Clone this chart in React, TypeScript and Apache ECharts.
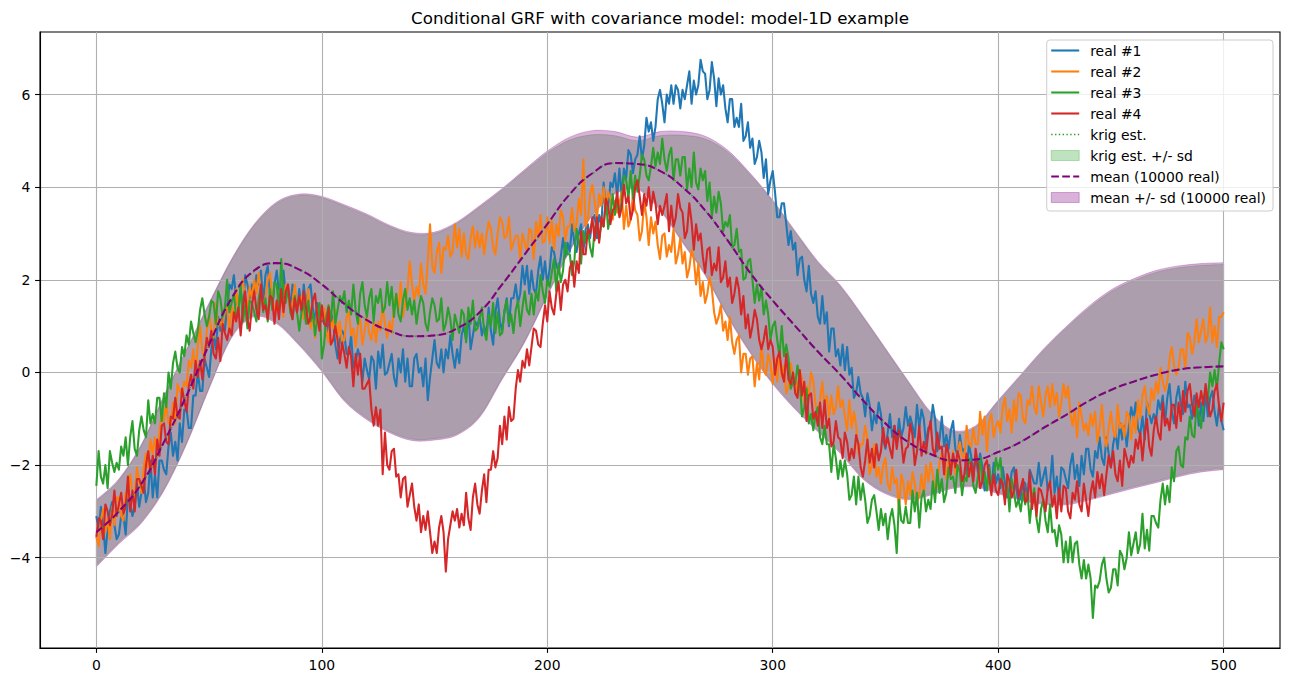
import React, { useEffect, useRef } from "react";
import * as echarts from "echarts";

// Realisations are sampled every unit on [0, 500].
const REAL_STEP = 1;
// Kriging and ensemble statistics are sampled every 10 units on [0, 500].
const STAT_STEP = 10;

const REAL_1 = [
  -3.1, -3.4, -2.9, -3.3, -3.9, -3.4, -3.0, -2.8, -3.3, -3.6,
  -3.5, -3.1, -3.1, -3.5, -2.7, -2.8, -3.1, -2.9, -2.4, -2.9,
  -2.6, -2.3, -2.8, -2.6, -1.9, -2.7, -2.2, -2.7, -1.9, -1.9,
  -2.1, -2.2, -1.6, -1.3, -1.8, -1.5, -1.9, -1.1, -1.5, -0.8,
  -0.8, -1.2, -1.2, -0.5, -0.5, 0.0, -0.4, -0.4, 0.3, 0.1,
  -0.1, 0.5, 0.8, 0.5, 1.2, 0.9, 1.3, 0.9, 1.4, 1.9,
  1.8, 2.1, 1.6, 1.4, 1.8, 1.3, 2.1, 1.9, 1.6, 1.9,
  1.7, 2.1, 1.9, 2.2, 1.5, 2.1, 2.3, 1.7, 1.4, 1.9,
  2.2, 1.7, 1.5, 2.2, 1.7, 1.8, 1.4, 1.9, 1.8, 1.3,
  1.8, 1.3, 1.9, 1.4, 1.8, 1.9, 1.4, 1.1, 1.5, 1.2,
  1.1, 1.3, 0.8, 1.1, 1.3, 1.1, 0.6, 0.3, 0.7, 0.9,
  0.8, 0.4, 0.4, 0.8, 0.1, 0.2, 0.5, 0.3, -0.2, 0.3,
  0.05, -0.15, 0.35, 0.25, -0.35, 0.45, 0.1, 0.6, -0.05, 0.0,
  0.2, 0.4, -0.1, -0.3, 0.3, 0.0, 0.5, -0.2, 0.3, -0.3,
  -0.3, 0.3, 0.4, 0.0, 0.1, -0.3, 0.3, -0.6, -0.1, 0.3,
  0.7, 0.2, 0.1, 0.5, 0.0, 0.5, 0.3, 0.8, 0.4, 0.1,
  0.5, 0.2, 0.8, 1.0, 0.7, 1.3, 0.5, 0.8, 1.1, 1.0,
  1.2, 0.8, 1.0, 0.8, 1.4, 0.9, 0.6, 1.3, 1.6, 1.1,
  0.9, 1.3, 1.6, 1.0, 1.6, 1.6, 1.9, 1.5, 1.7, 2.3,
  1.9, 2.3, 1.7, 2.2, 1.8, 1.7, 2.2, 2.5, 2.0, 2.4,
  1.9, 2.2, 2.7, 2.6, 2.3, 2.2, 2.5, 2.9, 2.5, 2.8,
  2.6, 3.2, 2.8, 2.6, 3.0, 3.2, 2.6, 3.1, 3.2, 2.9,
  3.3, 3.4, 2.9, 3.4, 3.2, 4.1, 3.5, 3.5, 4.1, 4.0,
  4.3, 3.8, 4.4, 3.8, 4.4, 4.2, 4.8, 4.7, 4.3, 4.6,
  4.7, 5.1, 4.6, 4.9, 5.5, 5.2, 5.4, 5.0, 5.3, 5.9,
  6.1, 5.8, 5.4, 6.0, 5.8, 6.2, 5.8, 6.2, 6.1, 5.7,
  6.1, 5.9, 6.2, 6.5, 5.8, 6.3, 6.0, 6.2, 6.75, 6.5,
  6.45, 5.9, 6.1, 6.7, 6.35, 5.75, 6.35, 6.0, 6.2, 5.7,
  5.4, 5.9, 5.9, 5.3, 5.5, 5.3, 5.8, 5.0, 5.1, 5.4,
  4.85, 5.05, 4.5, 4.65, 5.0, 4.75, 4.2, 4.6, 3.85, 4.15,
  4.35, 3.9, 3.35, 3.35, 3.65, 3.65, 3.2, 2.75, 3.05, 2.65,
  2.8, 2.1, 2.45, 2.5, 2.0, 1.75, 2.3, 1.7, 1.5, 1.75,
  1.2, 1.05, 1.65, 1.05, 1.3, 0.45, 0.95, 0.95, 0.35, 0.5,
  0.15, 0.6, 0.05, 0.55, -0.05, 0.1, -0.55, -0.45, -0.1, -0.45,
  -0.55, -0.95, -0.45, -0.7, -1.25, -0.9, -1.1, -0.65, -0.9, -1.45,
  -1.65, -1.3, -0.9, -1.4, -1.15, -1.5, -1.0, -1.4, -1.2, -0.75,
  -1.15, -0.95, -1.15, -1.4, -0.7, -1.2, -0.8, -1.0, -1.55, -1.2,
  -1.15, -0.7, -1.0, -1.7, -1.45, -0.95, -1.6, -1.35, -1.65, -1.25,
  -1.05, -1.65, -1.8, -1.35, -1.7, -1.65, -2.2, -1.55, -1.8, -2.25,
  -1.8, -2.15, -1.75, -2.05, -2.55, -2.45, -2.0, -2.55, -1.95, -2.4,
  -2.2, -2.5, -2.05, -2.4, -2.7, -2.55, -2.15, -2.05, -2.5, -2.8,
  -2.7, -2.35, -2.4, -2.75, -2.1, -2.25, -2.4, -2.4, -1.95, -2.45,
  -2.25, -2.05, -2.55, -2.4, -1.8, -2.6, -2.25, -2.75, -2.05, -2.1,
  -2.3, -2.5, -2.0, -1.75, -2.3, -2.0, -2.45, -1.8, -2.2, -1.65,
  -1.65, -2.1, -2.25, -1.7, -1.85, -1.4, -1.85, -2.0, -1.4, -1.75,
  -2.05, -1.55, -1.3, -1.65, -1.1, -1.45, -1.15, -1.6, -1.15, -0.75,
  -1.0, -0.65, -1.2, -1.35, -0.95, -1.45, -0.65, -0.9, -1.1, -0.9,
  -1.05, -0.6, -0.8, -0.5, -1.1, -0.55, -0.25, -0.85, -1.1, -0.55,
  -0.3, -0.7, -0.9, -0.2, -0.75, -0.7, -1.0, -0.5, -0.6, -1.15,
  -0.65, -1.05, -0.45, -0.95, -0.55, -0.4, -0.85, -1.15, -0.7, -1.05,
  -1.25,
];

const REAL_2 = [
  -3.55, -3.75, -3.2, -2.95, -3.45, -3.15, -3.6, -2.9, -3.3, -2.7,
  -2.7, -3.1, -3.2, -2.6, -2.7, -2.2, -2.6, -2.7, -2.05, -2.35,
  -2.6, -2.05, -1.75, -2.05, -1.45, -1.75, -1.4, -1.8, -1.3, -0.85,
  -1.05, -0.65, -1.1, -1.15, -0.65, -1.1, -0.25, -0.4, -0.5, -0.2,
  -0.3, 0.25, 0.1, 0.5, -0.05, 0.6, 1.0, 0.45, 0.3, 0.9,
  1.25, 0.9, 0.75, 1.5, 1.0, 1.15, 0.9, 1.45, 1.4, 0.9,
  1.45, 1.1, 1.8, 1.3, 1.8, 2.0, 1.6, 1.4, 1.85, 1.6,
  2.0, 1.7, 2.15, 1.75, 1.45, 1.6, 2.0, 2.15, 1.65, 1.35,
  1.45, 1.75, 1.7, 1.2, 1.9, 1.7, 1.3, 1.5, 1.9, 1.35,
  1.5, 1.65, 1.15, 1.2, 1.8, 0.95, 1.25, 0.75, 1.35, 1.3,
  1.15, 1.4, 0.9, 0.65, 1.2, 0.95, 1.35, 0.7, 1.1, 0.65,
  0.7, 1.2, 1.3, 0.8, 0.95, 0.55, 1.0, 1.15, 0.6, 0.9,
  1.25, 0.85, 0.7, 1.1, 0.65, 1.1, 0.9, 1.45, 1.05, 0.75,
  1.1, 0.85, 1.45, 1.7, 1.35, 1.95, 1.2, 1.5, 1.8, 2.4,
  1.9, 1.55, 1.85, 1.65, 2.35, 1.9, 1.7, 2.4, 3.2, 2.3,
  2.15, 2.6, 2.8, 2.15, 2.7, 2.65, 2.95, 2.5, 2.6, 3.2,
  2.7, 3.1, 2.5, 3.0, 2.55, 2.45, 2.9, 3.15, 2.7, 3.05,
  2.7, 3.0, 2.55, 2.95, 3.25, 3.1, 2.7, 2.55, 3.0, 3.35,
  3.25, 2.9, 2.95, 3.35, 2.65, 2.8, 2.95, 2.95, 2.45, 3.0,
  2.8, 2.6, 3.1, 3.05, 2.45, 3.25, 2.9, 3.4, 2.8, 2.85,
  3.35, 2.8, 3.3, 2.65, 3.2, 2.95, 3.5, 3.35, 2.85, 3.15,
  3.15, 3.55, 3.05, 3.2, 3.75, 3.4, 4.6, 3.15, 3.3, 3.85,
  4.05, 3.7, 3.3, 3.85, 3.6, 4.0, 3.5, 3.9, 3.75, 3.3,
  3.7, 3.45, 3.65, 3.9, 3.1, 3.6, 3.15, 3.3, 3.85, 3.5,
  3.4, 2.85, 3.05, 3.7, 3.35, 2.75, 3.35, 3.0, 3.25, 2.75,
  2.45, 2.95, 3.0, 2.5, 2.75, 2.6, 3.1, 2.35, 2.55, 2.9,
  2.35, 2.6, 2.05, 2.25, 2.65, 2.45, 1.9, 2.35, 1.65, 1.95,
  1.5, 1.7, 2.05, 1.8, 1.3, 1.05, 1.2, 1.45, 0.9, 1.1,
  0.7, 1.2, 0.65, 0.4, 0.7, 0.8, 0.0, 0.4, 0.4, -0.05,
  0.3, 0.35, -0.3, 0.2, -0.15, 0.65, 0.05, -0.05, 0.4, 0.2,
  -0.25, 0.3, -0.2, 0.45, -0.1, 0.15, -0.45, -0.3, 0.2, -0.1,
  -0.1, -0.5, 0.05, -0.15, -0.65, -0.3, -0.5, 0.0, -0.2, -0.7,
  -0.9, -0.6, -0.2, -0.75, -0.5, -0.95, -0.5, -0.9, -0.75, -0.3,
  -0.75, -0.6, -0.95, -1.25, -0.6, -1.2, -0.85, -1.15, -1.75, -1.55,
  -1.55, -1.15, -1.45, -2.2, -2.0, -1.55, -2.25, -2.05, -2.4, -2.0,
  -1.85, -2.4, -2.55, -2.05, -2.4, -2.3, -3.0, -2.2, -2.4, -2.85,
  -2.35, -2.65, -2.15, -2.4, -2.8, -2.65, -2.2, -2.65, -2.0, -2.35,
  -1.95, -2.2, -2.6, -2.4, -1.95, -1.75, -2.0, -2.3, -1.8, -2.05,
  -1.7, -2.2, -1.7, -1.5, -1.8, -1.9, -1.15, -1.55, -1.6, -1.2,
  -1.55, -1.55, -0.85, -1.35, -0.95, -1.7, -1.05, -0.9, -1.4, -1.15,
  -1.05, -1.3, -0.75, -0.55, -1.05, -0.8, -1.3, -0.6, -1.05, -0.45,
  -0.5, -1.0, -1.1, -0.6, -0.7, -0.3, -0.75, -0.9, -0.3, -0.65,
  -0.95, -0.5, -0.3, -0.75, -0.25, -0.7, -0.45, -0.95, -0.65, -0.25,
  -0.55, -0.3, -0.9, -1.15, -0.8, -1.4, -0.65, -0.95, -1.25, -1.1,
  -1.35, -0.9, -1.15, -0.85, -1.5, -1.2, -0.7, -1.35, -1.6, -1.2,
  -0.85, -1.25, -1.4, -0.7, -1.2, -1.1, -1.4, -0.85, -0.95, -1.45,
  -0.95, -1.3, -0.6, -1.0, -0.5, -0.3, -0.7, -0.9, -0.35, -0.6,
  -0.2, -0.45, 0.1, -0.2, -0.4, -0.2, 0.3, 0.55, 0.15, -0.05,
  0.1, 0.5, 0.5, 0.1, 0.85, 0.75, 0.4, 0.65, 1.15, 0.65,
  0.9, 1.15, 0.65, 0.8, 1.4, 0.65, 1.0, 0.55, 1.2, 1.2,
  1.3,
];

const REAL_3 = [
  -2.45, -1.7, -2.25, -2.4, -2.0, -2.5, -1.7, -1.95, -2.15, -1.95,
  -2.1, -1.6, -1.8, -1.4, -2.0, -1.4, -1.05, -1.65, -1.8, -1.25,
  -0.95, -1.25, -1.4, -0.6, -1.1, -0.9, -1.1, -0.55, -0.55, -1.05,
  -0.45, -0.75, 0.0, -0.35, 0.2, 0.45, 0.1, 0.0, 0.55, 0.35,
  0.8, 0.6, 1.1, 0.85, 0.65, 0.9, 1.35, 1.6, 1.25, 1.0,
  1.2, 1.55, 1.5, 1.05, 1.75, 1.6, 1.2, 1.4, 2.0, 1.3,
  1.5, 1.7, 1.2, 1.3, 1.9, 1.1, 1.45, 0.95, 1.55, 1.5,
  1.3, 1.1, 1.6, 1.85, 1.3, 1.6, 1.1, 1.8, 1.35, 1.95,
  1.9, 1.35, 2.45, 1.65, 1.5, 1.85, 1.3, 1.15, 1.65, 1.3,
  0.9, 1.3, 1.5, 1.05, 1.55, 1.1, 1.3, 0.8, 1.15, 1.5,
  0.3, 0.6, 1.2, 1.45, 1.1, 1.75, 1.05, 1.35, 1.65, 1.5,
  1.75, 1.3, 1.55, 1.25, 1.9, 1.35, 1.05, 1.7, 1.95, 1.45,
  1.2, 1.6, 1.8, 1.1, 1.65, 1.5, 1.8, 1.3, 1.4, 1.95,
  1.45, 1.85, 1.2, 1.7, 1.25, 1.1, 1.55, 1.8, 1.35, 1.6,
  1.25, 1.55, 1.05, 1.4, 1.65, 1.5, 1.05, 0.9, 1.3, 1.6,
  1.45, 1.1, 1.15, 1.6, 0.9, 1.05, 1.4, 1.15, 0.7, 1.25,
  1.05, 0.85, 1.35, 1.25, 0.65, 1.4, 1.05, 1.55, 0.9, 0.95,
  1.15, 1.4, 0.9, 0.7, 1.25, 1.0, 1.5, 0.85, 1.3, 0.8,
  0.85, 1.35, 1.55, 1.05, 1.25, 0.85, 1.35, 1.55, 1.0, 1.4,
  1.75, 1.35, 1.25, 1.7, 1.25, 1.75, 1.55, 2.1, 1.75, 1.5,
  2.0, 1.85, 2.15, 2.45, 1.75, 2.35, 1.95, 2.2, 2.8, 2.55,
  2.55, 2.1, 2.4, 3.1, 2.85, 2.35, 3.05, 2.8, 3.1, 2.7,
  2.5, 3.1, 3.25, 2.85, 3.2, 3.15, 3.75, 3.1, 3.4, 3.85,
  3.4, 3.75, 3.4, 3.7, 4.25, 4.15, 3.75, 4.35, 3.75, 4.25,
  3.9, 4.25, 4.7, 4.6, 4.25, 4.15, 4.45, 4.85, 4.45, 4.75,
  4.5, 5.05, 4.6, 4.35, 4.7, 4.85, 4.15, 4.6, 4.6, 4.25,
  4.65, 4.65, 3.95, 4.4, 4.0, 4.75, 4.1, 3.95, 4.4, 4.15,
  4.35, 3.7, 4.1, 3.35, 3.8, 3.45, 3.9, 3.65, 3.05, 3.25,
  3.15, 3.4, 2.7, 2.75, 3.1, 2.6, 2.65, 2.0, 2.05, 2.4,
  2.45, 2.0, 1.5, 1.9, 1.55, 1.85, 1.25, 1.55, 1.25, 0.7,
  1.0, 1.1, 0.7, 0.35, 1.0, 0.35, 0.6, 0.3, -0.35, -0.2,
  -0.25, 0.15, -0.2, -0.95, -0.75, -0.35, -1.1, -0.9, -1.25, -0.9,
  -0.75, -1.4, -1.55, -1.15, -1.55, -1.55, -2.15, -1.55, -1.85, -2.3,
  -1.9, -2.25, -1.9, -2.2, -2.75, -2.65, -2.25, -2.85, -2.25, -2.75,
  -2.4, -2.75, -3.25, -3.1, -2.75, -2.65, -3.0, -3.4, -2.95, -3.3,
  -3.05, -3.6, -3.15, -2.95, -3.3, -3.9, -2.75, -3.2, -3.25, -2.9,
  -3.25, -3.25, -2.55, -3.0, -2.6, -3.35, -2.7, -2.55, -3.0, -2.75,
  -2.95, -2.35, -2.8, -2.1, -2.6, -2.3, -2.8, -2.6, -2.05, -2.3,
  -2.25, -2.6, -2.0, -2.15, -2.65, -2.25, -2.35, -1.85, -2.0, -2.45,
  -2.6, -2.25, -1.85, -2.4, -2.15, -2.55, -2.05, -2.45, -2.3, -1.85,
  -2.1, -1.85, -2.45, -2.7, -2.35, -3.0, -2.3, -2.6, -2.9, -2.75,
  -3.0, -2.6, -2.85, -2.6, -3.25, -2.75, -2.5, -3.15, -3.45, -2.95,
  -2.75, -3.2, -3.45, -2.85, -3.45, -3.4, -3.75, -3.3, -3.5, -4.1,
  -3.65, -4.1, -3.55, -4.1, -3.7, -3.65, -4.15, -4.45, -4.05, -4.45,
  -4.15, -4.45, -5.3, -4.6, -4.65, -4.5, -4.15, -4.0, -4.45, -4.75,
  -4.65, -4.25, -4.25, -4.6, -3.85, -3.95, -4.25, -4.0, -3.45, -3.95,
  -3.7, -3.45, -3.9, -3.7, -3.05, -3.8, -3.4, -3.85, -3.1, -3.1,
  -3.25, -3.35, -2.75, -2.4, -2.85, -2.45, -2.8, -2.05, -2.35, -1.7,
  -1.6, -2.0, -2.05, -1.4, -1.45, -0.95, -1.35, -1.4, -0.7, -0.95,
  -1.2, -0.65, -0.35, -0.6, 0.0, -0.3, 0.05, -0.35, 0.2, 0.65,
  0.5,
];

const REAL_4 = [
  -3.55, -3.15, -3.2, -3.6, -2.85, -3.0, -3.3, -3.05, -2.55, -3.1,
  -2.85, -2.6, -3.05, -2.9, -2.25, -3.0, -2.55, -3.0, -2.3, -2.3,
  -2.45, -2.6, -2.0, -1.7, -2.15, -1.8, -2.2, -1.45, -1.8, -1.15,
  -1.1, -1.5, -1.55, -0.95, -1.0, -0.55, -0.95, -1.0, -0.35, -0.6,
  -0.85, -0.3, -0.05, -0.35, 0.25, -0.1, 0.25, -0.15, 0.35, 0.75,
  0.55, 0.9, 0.4, 0.3, 0.75, 0.25, 1.05, 0.85, 0.7, 0.95,
  0.8, 1.3, 1.1, 1.4, 0.8, 1.4, 1.75, 1.15, 0.9, 1.45,
  1.75, 1.35, 1.15, 1.9, 1.35, 1.45, 1.15, 1.65, 1.6, 1.05,
  1.55, 1.15, 1.8, 1.3, 1.75, 1.9, 1.45, 1.15, 1.6, 1.3,
  1.65, 1.35, 1.75, 1.4, 1.05, 1.2, 1.55, 1.7, 1.2, 0.9,
  1.45, 1.05, 1.0, 1.4, 0.6, 0.7, 1.0, 0.7, 0.2, 0.65,
  0.4, 0.1, 0.55, 0.35, -0.3, 0.4, -0.05, 0.4, -0.35, -0.35,
  -0.25, -0.15, -0.8, -1.15, -0.75, -1.15, -0.8, -2.2, -1.3, -2.0,
  -2.1, -1.7, -1.65, -2.25, -2.2, -2.7, -2.3, -2.25, -2.9, -2.65,
  -2.4, -2.9, -3.2, -2.85, -3.45, -3.1, -3.4, -3.0, -3.45, -3.9,
  -3.65, -3.9, -3.35, -3.1, -3.45, -4.3, -3.6, -3.3, -3.0, -3.2,
  -2.95, -3.35, -3.05, -3.3, -2.6, -3.15, -3.4, -2.7, -2.4, -2.85,
  -3.05, -2.55, -2.2, -2.8, -2.1, -2.1, -1.7, -2.05, -1.85, -1.15,
  -1.55, -0.95, -1.45, -0.75, -1.05, -1.0, -0.35, 0.05, -0.2, 0.25,
  0.1, 0.5, 0.15, 0.55, 0.95, 0.9, 0.6, 0.55, 1.05, 1.45,
  1.1, 1.75, 1.4, 1.25, 1.7, 1.95, 1.35, 1.9, 2.0, 1.75,
  2.25, 2.4, 1.85, 2.4, 2.15, 3.05, 2.55, 2.55, 3.1, 3.0,
  3.35, 2.85, 3.35, 2.8, 3.35, 3.15, 3.75, 3.6, 3.2, 3.5,
  3.55, 3.9, 3.35, 3.55, 4.05, 3.65, 3.8, 3.3, 3.5, 4.0,
  4.15, 3.8, 3.4, 3.85, 3.6, 4.0, 3.5, 3.9, 3.65, 3.2,
  3.6, 3.4, 3.6, 3.85, 3.05, 3.6, 3.15, 3.35, 3.85, 3.55,
  3.45, 2.9, 3.05, 3.65, 3.25, 2.65, 3.2, 2.85, 3.0, 2.5,
  2.15, 2.65, 2.7, 2.1, 2.35, 2.2, 2.7, 1.95, 2.05, 2.4,
  1.85, 2.05, 1.5, 1.7, 2.05, 1.8, 1.25, 1.65, 0.95, 1.25,
  0.75, 1.0, 1.35, 1.15, 0.7, 0.5, 0.7, 1.0, 0.5, 0.7,
  0.55, -0.05, 0.3, 0.45, 0.0, -0.2, 0.4, -0.15, -0.25, 0.0,
  -0.45, -0.55, 0.05, -0.5, -0.2, -1.05, -0.5, -0.45, -1.0, -0.85,
  -1.15, -0.65, -1.2, -0.6, -1.2, -1.0, -1.6, -1.5, -1.05, -1.4,
  -1.45, -1.85, -1.3, -1.5, -1.9, -1.65, -1.85, -1.35, -1.55, -2.05,
  -2.25, -1.9, -1.45, -1.95, -1.65, -2.05, -1.55, -1.9, -1.7, -1.2,
  -1.6, -1.4, -1.65, -1.85, -1.15, -1.65, -1.25, -1.45, -1.95, -1.65,
  -1.6, -1.1, -1.35, -2.0, -1.7, -1.15, -1.8, -1.5, -1.75, -1.3,
  -1.05, -1.65, -1.8, -1.3, -1.65, -1.6, -2.2, -1.55, -1.75, -2.2,
  -1.75, -2.05, -1.7, -1.9, -2.35, -2.2, -1.75, -2.25, -1.95, -2.35,
  -1.65, -2.0, -2.5, -2.35, -2.0, -1.9, -2.25, -2.65, -2.2, -2.55,
  -2.65, -2.3, -2.4, -2.85, -2.2, -2.35, -2.7, -2.55, -2.1, -2.7,
  -2.5, -2.3, -2.8, -2.75, -2.15, -2.95, -2.6, -3.1, -2.5, -2.55,
  -2.75, -3.0, -2.5, -2.35, -2.9, -2.65, -3.15, -2.5, -3.0, -2.45,
  -2.5, -3.0, -3.15, -2.6, -2.75, -2.35, -2.85, -3.0, -2.4, -2.75,
  -3.1, -2.6, -2.35, -2.7, -2.15, -2.5, -2.2, -2.65, -2.2, -1.8,
  -2.05, -1.7, -2.2, -2.35, -1.9, -2.45, -1.65, -1.85, -2.05, -1.8,
  -1.95, -1.45, -1.65, -1.3, -1.9, -1.35, -1.0, -1.6, -1.8, -1.25,
  -0.95, -1.3, -1.45, -0.65, -1.15, -1.0, -1.25, -0.7, -0.7, -1.2,
  -0.65, -1.05, -0.4, -0.85, -0.4, -0.25, -0.7, -0.95, -0.45, -0.75,
  -0.4, -0.7, -0.25, -0.65, -0.95, -0.8, -0.4, -0.25, -0.75, -1.05,
  -0.65,
];

// Kriging estimate and its +/- one standard deviation envelope.
const KRIG_EST = [
  -3.45, -3.02, -2.42, -1.52, -0.5, 0.6, 1.58, 2.18, 2.35, 2.22,
  1.9, 1.49, 1.14, 0.9, 0.78, 0.8, 0.96, 1.31, 1.9, 2.55,
  3.2, 3.84, 4.29, 4.52, 4.5, 4.35, 4.0, 3.5, 2.85, 2.16,
  1.55, 1.0, 0.46, -0.05, -0.6, -1.1, -1.5, -1.76, -1.9, -1.88,
  -1.72, -1.5, -1.21, -0.92, -0.62, -0.38, -0.2, -0.05, 0.06, 0.11,
  0.13,
];
const KRIG_LO = [
  -4.17, -3.67, -3.22, -2.52, -1.52, -0.32, 0.78, 1.23, 1.08, 0.61,
  0.05, -0.59, -0.99, -1.27, -1.44, -1.43, -1.32, -0.94, -0.12, 0.68,
  1.68, 2.65, 3.41, 3.88, 3.98, 3.53, 2.83, 2.13, 1.23, 0.45,
  -0.22, -0.77, -1.25, -1.72, -2.27, -2.59, -2.72, -2.62, -2.47, -2.45,
  -2.59, -2.73, -2.82, -2.83, -2.73, -2.6, -2.47, -2.35, -2.22, -2.12,
  -2.07,
];
const KRIG_HI = [
  -2.78, -2.33, -1.58, -0.53, 0.47, 1.47, 2.42, 3.17, 3.65, 3.82,
  3.77, 3.59, 3.39, 3.15, 2.99, 3.0, 3.22, 3.57, 3.94, 4.35,
  4.74, 5.02, 5.13, 5.11, 5.0, 5.11, 5.12, 5.04, 4.76, 4.27,
  3.69, 3.02, 2.37, 1.85, 1.19, 0.49, -0.21, -0.88, -1.28, -1.18,
  -0.63, -0.08, 0.47, 0.95, 1.38, 1.74, 1.98, 2.16, 2.26, 2.31,
  2.33,
];

// Mean of 10000 realisations and its +/- one standard deviation envelope.
const MEAN_REAL = [
  -3.45, -3.0, -2.4, -1.5, -0.5, 0.6, 1.6, 2.2, 2.36, 2.22,
  1.9, 1.48, 1.13, 0.9, 0.78, 0.8, 0.95, 1.3, 1.9, 2.55,
  3.2, 3.85, 4.3, 4.52, 4.5, 4.35, 4.0, 3.5, 2.85, 2.15,
  1.55, 1.0, 0.45, -0.05, -0.6, -1.1, -1.5, -1.76, -1.9, -1.88,
  -1.72, -1.5, -1.2, -0.92, -0.62, -0.38, -0.2, -0.05, 0.06, 0.11,
  0.13,
];
const MEAN_LO = [
  -4.2, -3.7, -3.25, -2.55, -1.55, -0.35, 0.75, 1.2, 1.05, 0.58,
  0.02, -0.62, -1.02, -1.3, -1.47, -1.46, -1.35, -0.97, -0.15, 0.65,
  1.65, 2.62, 3.38, 3.85, 3.95, 3.5, 2.8, 2.1, 1.2, 0.42,
  -0.25, -0.8, -1.28, -1.75, -2.3, -2.62, -2.75, -2.65, -2.5, -2.48,
  -2.62, -2.76, -2.85, -2.86, -2.76, -2.63, -2.5, -2.38, -2.25, -2.15,
  -2.1,
];
const MEAN_HI = [
  -2.75, -2.3, -1.55, -0.5, 0.5, 1.5, 2.45, 3.2, 3.68, 3.85,
  3.8, 3.62, 3.42, 3.18, 3.02, 3.03, 3.25, 3.6, 3.97, 4.38,
  4.78, 5.08, 5.22, 5.2, 5.08, 5.2, 5.2, 5.1, 4.8, 4.3,
  3.72, 3.05, 2.4, 1.88, 1.22, 0.52, -0.18, -0.85, -1.25, -1.15,
  -0.6, -0.05, 0.5, 0.98, 1.42, 1.78, 2.02, 2.2, 2.3, 2.35,
  2.37,
];

const X_TICKS = [0, 100, 200, 300, 400, 500];
const Y_TICKS = [-4, -2, 0, 2, 4, 6];
const X_MIN = -25;
const X_MAX = 525;
const Y_MIN = -5.95;
const Y_MAX = 7.35;

const TITLE = "Conditional GRF with covariance model: model-1D example";

const C_BLUE = "#1f77b4";
const C_ORANGE = "#ff7f0e";
const C_GREEN = "#2ca02c";
const C_RED = "#d62728";
const C_PURPLE = "#800080";
const BAND_GREEN = "rgba(44,160,44,0.3)";
const BAND_PURPLE = "rgba(128,0,128,0.3)";

const FONT = "DejaVu Sans";
const TICK_FONT = 13.9;
const LINE_W = 2.08;

const realX = REAL_1.map((_, i) => i * REAL_STEP);
const statX = MEAN_REAL.map((_, i) => i * STAT_STEP);

// Smooth curve through screen points (Catmull-Rom expressed as cubic Beziers).
function traceCurve(ctx: any, pts: number[][]) {
  const n = pts.length;
  for (let i = 0; i < n - 1; i++) {
    const p0 = pts[i > 0 ? i - 1 : 0];
    const p1 = pts[i];
    const p2 = pts[i + 1];
    const p3 = pts[i + 2 < n ? i + 2 : n - 1];
    ctx.bezierCurveTo(
      p1[0] + (p2[0] - p0[0]) / 6,
      p1[1] + (p2[1] - p0[1]) / 6,
      p2[0] - (p3[0] - p1[0]) / 6,
      p2[1] - (p3[1] - p1[1]) / 6,
      p2[0],
      p2[1]
    );
  }
}

// Filled envelope between an upper and a lower curve, with straight ends.
const BandShape = (echarts.graphic as any).extendShape({
  shape: { upper: [] as number[][], lower: [] as number[][] },
  buildPath(ctx: any, shape: any) {
    const up: number[][] = shape.upper;
    const low: number[][] = (shape.lower as number[][]).slice().reverse();
    if (!up.length || !low.length) return;
    ctx.moveTo(up[0][0], up[0][1]);
    traceCurve(ctx, up);
    ctx.lineTo(low[0][0], low[0][1]);
    traceCurve(ctx, low);
    ctx.closePath();
  },
});
(echarts.graphic as any).registerShape("sdBand", BandShape);

function bandSeries(name: string, lo: number[], hi: number[], color: string) {
  return {
    type: "custom",
    name,
    coordinateSystem: "cartesian2d",
    z: 2,
    silent: true,
    clip: true,
    data: statX.map((x, i) => [x, lo[i], hi[i]]),
    encode: { x: 0, y: [1, 2] },
    itemStyle: { color },
    renderItem: (params: any, api: any) => {
      if (params.dataIndex !== 0) return null;
      const upper = statX.map((x, i) => api.coord([x, hi[i]]));
      const lower = statX.map((x, i) => api.coord([x, lo[i]]));
      return {
        type: "sdBand",
        shape: { upper, lower },
        style: { fill: color, stroke: color, lineWidth: 0.9 },
      };
    },
  };
}

function realSeries(name: string, values: number[], color: string) {
  return {
    type: "line",
    name,
    data: values.map((v, i) => [realX[i], v]),
    symbol: "none",
    showSymbol: false,
    z: 4,
    silent: true,
    clip: true,
    itemStyle: { color },
    lineStyle: { color, width: LINE_W, join: "round", cap: "butt" },
    emphasis: { disabled: true },
  };
}

function statLine(name: string, values: number[], color: string, width: number, dash: number[]) {
  return {
    type: "line",
    name,
    data: values.map((v, i) => [statX[i], v]),
    smooth: 0.5,
    symbol: "none",
    showSymbol: false,
    z: 4,
    silent: true,
    clip: true,
    itemStyle: { color },
    lineStyle: { color, width, type: dash, cap: "butt" },
    emphasis: { disabled: true },
  };
}

// Legend glyphs
const ICON_W = 28;
const SOLID_ICON = `path://M0,0h${ICON_W}v${LINE_W}h-${ICON_W}z`;
const DOT_ICON =
  "path://" +
  [0, 1, 2, 3, 4, 5, 6, 7].map((k) => `M${(k * 3.7).toFixed(2)},0h1.4v1.4h-1.4z`).join(" ");
const DASH_ICON = `path://M0,0h7.7v${LINE_W}h-7.7z M11,0h7.7v${LINE_W}h-7.7z M22,0h6v${LINE_W}h-6z`;

function lineLegend(name: string, color: string, icon: string) {
  return { name, icon, itemStyle: { color, borderWidth: 0 } };
}
function bandLegend(name: string, color: string) {
  return { name, icon: "rect", itemStyle: { color, borderColor: color, borderWidth: 1 } };
}

const minusFmt = (v: number) => (v < 0 ? "\u2212" + Math.abs(v) : String(v));

function buildOption() {
  const tickStyle = { color: "#000", width: 1.1 };
  const gridLine = { show: true, lineStyle: { color: "#b0b0b0", width: 1.1 } };
  const labelStyle = { color: "#000", fontSize: TICK_FONT, fontFamily: FONT };
  return {
    animation: false,
    backgroundColor: "#ffffff",
    textStyle: { fontFamily: FONT },
    title: {
      text: TITLE,
      left: 660,
      top: 8,
      padding: 0,
      textAlign: "center",
      textStyle: { fontFamily: FONT, fontSize: 16.7, fontWeight: "normal", color: "#000", lineHeight: 20 },
    },
    grid: {
      left: 40,
      right: 10,
      top: 32,
      bottom: 34,
      show: true,
      borderColor: "#000",
      borderWidth: 1.1,
      backgroundColor: "transparent",
    },
    legend: {
      orient: "vertical",
      right: 17,
      top: 40,
      z: 10,
      selectedMode: false,
      itemWidth: ICON_W,
      itemHeight: 10,
      itemGap: 0,
      padding: [0, 7, 3, 4],
      backgroundColor: "rgba(255,255,255,0.8)",
      borderColor: "#cccccc",
      borderWidth: 1,
      borderRadius: 3,
      textStyle: { fontFamily: FONT, fontSize: TICK_FONT, color: "#000", lineHeight: 21, padding: [0, 0, 0, 6] },
      data: [
        lineLegend("real #1", C_BLUE, SOLID_ICON),
        lineLegend("real #2", C_ORANGE, SOLID_ICON),
        lineLegend("real #3", C_GREEN, SOLID_ICON),
        lineLegend("real #4", C_RED, SOLID_ICON),
        lineLegend("krig est.", C_GREEN, DOT_ICON),
        bandLegend("krig est. +/- sd", BAND_GREEN),
        lineLegend("mean (10000 real)", C_PURPLE, DASH_ICON),
        bandLegend("mean +/- sd (10000 real)", BAND_PURPLE),
      ],
    },
    xAxis: {
      type: "value",
      min: X_MIN,
      max: X_MAX,
      z: 3,
      axisLine: { show: true, onZero: false, lineStyle: tickStyle },
      axisTick: { show: true, length: 4.9, customValues: X_TICKS, lineStyle: tickStyle },
      axisLabel: { ...labelStyle, customValues: X_TICKS, margin: 9.7 },
      splitLine: gridLine,
    },
    yAxis: {
      type: "value",
      min: Y_MIN,
      max: Y_MAX,
      z: 3,
      axisLine: { show: true, onZero: false, lineStyle: tickStyle },
      axisTick: { show: true, length: 4.9, customValues: Y_TICKS, lineStyle: tickStyle },
      axisLabel: { ...labelStyle, customValues: Y_TICKS, margin: 9.7, formatter: minusFmt },
      splitLine: gridLine,
    },
    series: [
      bandSeries("krig est. +/- sd", KRIG_LO, KRIG_HI, BAND_GREEN),
      bandSeries("mean +/- sd (10000 real)", MEAN_LO, MEAN_HI, BAND_PURPLE),
      realSeries("real #1", REAL_1, C_BLUE),
      realSeries("real #2", REAL_2, C_ORANGE),
      realSeries("real #3", REAL_3, C_GREEN),
      realSeries("real #4", REAL_4, C_RED),
      statLine("krig est.", KRIG_EST, C_GREEN, 1.4, [1.4, 2.3]),
      statLine("mean (10000 real)", MEAN_REAL, C_PURPLE, LINE_W, [7.7, 3.3]),
    ],
  };
}

export default function App() {
  const ref = useRef<HTMLDivElement>(null);
  useEffect(() => {
    if (!ref.current) return;
    const chart = echarts.init(ref.current, null, { renderer: "svg" });
    chart.setOption(buildOption() as any);
    return () => chart.dispose();
  }, []);
  return (
    <div
      ref={ref}
      style={{ position: "fixed", left: 0, top: 0, width: 1290, height: 682, background: "#fff" }}
    />
  );
}
